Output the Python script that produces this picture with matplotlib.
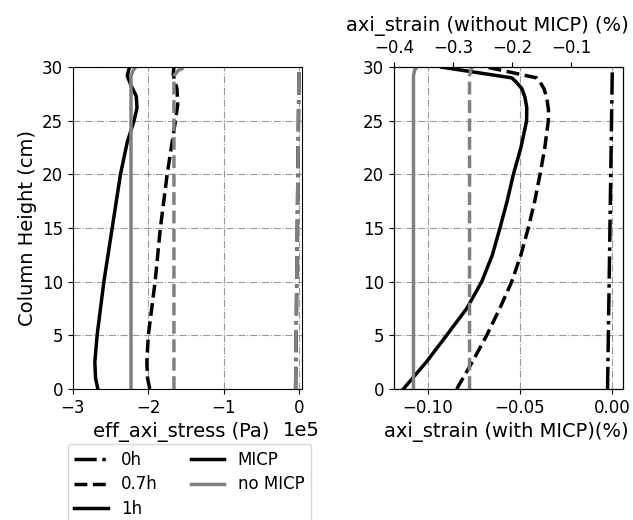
import matplotlib
matplotlib.use("Agg")
import matplotlib.pyplot as plt
from matplotlib.lines import Line2D

# ---- left panel: effective axial stress (Pa) ----
h_stress_1h = [0, 1, 2.5, 5, 10, 15, 20, 23, 25, 26.2, 27.3, 28.3, 29.2, 30]
stress_1h_micp = [-2.67e5, -2.70e5, -2.71e5, -2.68e5, -2.59e5, -2.48e5, -2.37e5,
                  -2.28e5, -2.19e5, -2.15e5, -2.16e5, -2.23e5, -2.28e5, -2.25e5]
h_stress_07h = [0, 1, 2.5, 5, 10, 15, 20, 25, 26.5, 28, 29.3, 30]
stress_07h_micp = [-1.98e5, -2.01e5, -2.02e5, -2.00e5, -1.91e5, -1.84e5, -1.75e5,
                   -1.64e5, -1.61e5, -1.62e5, -1.67e5, -1.66e5]
h_nomicp = [0, 29.2, 29.7, 30]
stress_1h_nomicp = [-2.23e5, -2.23e5, -2.20e5, -2.17e5]
stress_07h_nomicp = [-1.66e5, -1.66e5, -1.60e5, -1.51e5]
h_0h = [0, 30]
stress_0h = [-0.045e5, 0.0]

# ---- right panel: axial strain (%) ----
h_strain_1h = [0, 2.5, 5, 7.5, 10, 12.5, 15, 17.5, 20, 22.5, 25, 26.2, 27.2, 28, 28.6, 29, 30]
strain_1h_micp = [-0.1134, -0.101, -0.0899, -0.079, -0.0708, -0.065, -0.0609, -0.057,
                  -0.0536, -0.0495, -0.0464, -0.0463, -0.0473, -0.049, -0.052, -0.0545, -0.0926]
h_strain_07h = [0, 2.5, 5, 7.5, 10, 12.5, 15, 17.5, 20, 22.5, 25, 26, 27.2, 28, 28.6, 29, 30]
strain_07h_micp = [-0.0844, -0.076, -0.0681, -0.061, -0.0545, -0.0495, -0.0455, -0.042,
                   -0.0391, -0.0365, -0.0346, -0.0345, -0.0355, -0.037, -0.039, -0.041, -0.068]
strain_0h_micp = [-0.0024, 0.0002]
strain_1h_nomicp = [-0.367, -0.367, -0.365, -0.3616]
strain_07h_nomicp = [-0.272, -0.272, -0.270, -0.267]

lw = 2.5
grid_kw = dict(color="grey", linestyle="-.", linewidth=0.8, alpha=0.8)

fig = plt.figure(figsize=(6.33, 5.2), dpi=100)
ax1 = fig.add_axes([0.1153, 0.2519, 0.3618, 0.619])
ax2 = fig.add_axes([0.6224, 0.2519, 0.3618, 0.619])

# left
ax1.plot(stress_0h, h_0h, color="black", linestyle="-.", linewidth=lw)
ax1.plot(stress_0h, h_0h, color="grey", linestyle="-.", linewidth=lw)
ax1.plot(stress_07h_micp, h_stress_07h, color="black", linestyle="--", linewidth=lw)
ax1.plot(stress_07h_nomicp, h_nomicp, color="grey", linestyle="--", linewidth=lw)
ax1.plot(stress_1h_micp, h_stress_1h, color="black", linestyle="-", linewidth=lw)
ax1.plot(stress_1h_nomicp, h_nomicp, color="grey", linestyle="-", linewidth=lw)
ax1.set_xlim(-3e5, 0.04e5)
ax1.set_ylim(0, 30)
ax1.set_xticks([-3e5, -2e5, -1e5, 0])
ax1.set_yticks([0, 5, 10, 15, 20, 25, 30])
ax1.ticklabel_format(axis="x", style="sci", scilimits=(0, 0))
ax1.xaxis.get_offset_text().set_fontsize(14)
ax1.xaxis.get_offset_text().set_x(1.079)
ax1.tick_params(labelsize=12)
ax1.grid(True, **grid_kw)
ax1.set_xlabel("eff_axi_stress (Pa)", fontsize=14, x=0.474)
ax1.set_ylabel("Column Height (cm)", fontsize=14)

# right, bottom axis (with MICP)
ax2.plot(strain_0h_micp, h_0h, color="black", linestyle="-.", linewidth=lw)
ax2.plot(strain_07h_micp, h_strain_07h, color="black", linestyle="--", linewidth=lw)
ax2.plot(strain_1h_micp, h_strain_1h, color="black", linestyle="-", linewidth=lw)
ax2.set_xlim(-0.1185, 0.006)
ax2.set_ylim(0, 30)
ax2.set_xticks([-0.10, -0.05, 0.00])
ax2.set_xticklabels(["\u22120.10", "\u22120.05", "0.00"])
ax2.set_yticks([0, 5, 10, 15, 20, 25, 30])
ax2.tick_params(labelsize=12)
ax2.grid(True, **grid_kw)
ax2.set_xlabel("axi_strain (with MICP)(%)", fontsize=14, x=0.491)

# right, top axis (without MICP)
ax3 = ax2.twiny()
ax3.plot(strain_07h_nomicp, h_nomicp, color="grey", linestyle="--", linewidth=lw)
ax3.plot(strain_1h_nomicp, h_nomicp, color="grey", linestyle="-", linewidth=lw)
ax3.set_xlim(-0.40, -0.012)
ax3.set_ylim(0, 30)
ax3.set_xticks([-0.4, -0.3, -0.2, -0.1])
ax3.tick_params(labelsize=12)
ax3.set_xlabel("axi_strain (without MICP) (%)", fontsize=14, x=0.408, labelpad=6)

handles = [
    Line2D([], [], color="black", linestyle="-.", linewidth=lw, label="0h"),
    Line2D([], [], color="black", linestyle="--", linewidth=lw, label="0.7h"),
    Line2D([], [], color="black", linestyle="-", linewidth=lw, label="1h"),
    Line2D([], [], color="black", linestyle="-", linewidth=lw, label="MICP"),
    Line2D([], [], color="grey", linestyle="-", linewidth=lw, label="no MICP"),
]
fig.legend(handles=handles, ncol=2, fontsize=12, loc="upper left",
           bbox_to_anchor=(0.107, 0.146), borderaxespad=0, labelspacing=0.4)

fig.savefig("out.png", dpi=100)
